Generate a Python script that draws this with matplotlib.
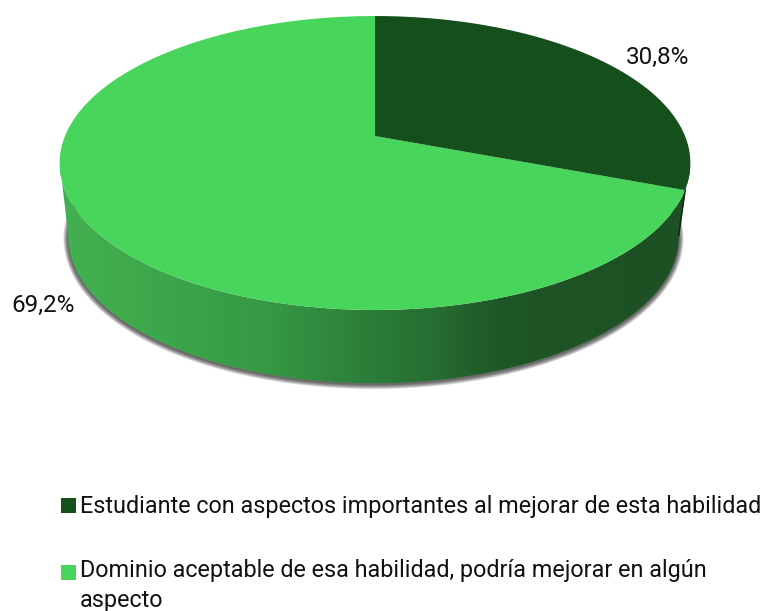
import numpy as np
import matplotlib
matplotlib.use('Agg')
import matplotlib.pyplot as plt
from matplotlib.colors import LinearSegmentedColormap
from matplotlib.patches import Polygon, Rectangle

# Chart data
labels = ['Estudiante con aspectos importantes al mejorar de esta habilidad',
          'Dominio aceptable de esa habilidad, podría mejorar en algún\naspecto']
shares = [30.8, 69.2]
share_labels = ['30,8%', '69,2%']

# Colours
DARK_GREEN = '#154f1c'
LIGHT_GREEN = '#48d55c'
SIDE_STOPS = [(0.0, '#43b052'), (0.12, '#3eaa4c'), (0.32, '#369a45'),
              (0.5, '#2b7c38'), (0.58, '#277033'), (0.7, '#1f5626'), (1.0, '#1d5023')]

# Perspective of the pie in pixels
CENTER_X = 375
LOWER_CENTER_X = 373.5
TOP_Y = 136
BOTTOM_Y = 210.5
RADIUS_X = 310
RADIUS_Y = 142
LOWER_RADIUS_X = 300
LOWER_RADIUS_Y = 141
TILT = 0.1837


def rim(theta_deg, cx, cy, rx, ry):
    # theta runs clockwise from the top of the pie
    t = np.radians(theta_deg)
    w = 1 + TILT * np.cos(t)
    return np.column_stack([cx + rx * np.sin(t) / w, cy - ry * np.cos(t) / w])


fig = plt.figure(figsize=(7.64, 6.11), dpi=100)
ax = fig.add_axes([0, 0, 1, 1])
ax.set_xlim(0, 764)
ax.set_ylim(611, 0)
ax.axis('off')

split = shares[0] / sum(shares) * 360
arc = np.linspace(100, 260, 200)
top_edge = rim(arc, CENTER_X, TOP_Y, RADIUS_X, RADIUS_Y)
low_edge = rim(arc, LOWER_CENTER_X, BOTTOM_Y, LOWER_RADIUS_X, LOWER_RADIUS_Y)
side_pts = np.vstack([top_edge, low_edge[::-1]])

# Soft shadow under the side of the pie, runs on behind the wall so it fades in
shadow_pts = rim(np.linspace(80, 280, 240), LOWER_CENTER_X, BOTTOM_Y + 1,
                 LOWER_RADIUS_X, LOWER_RADIUS_Y)
for lw in np.arange(7, 0, -1):
    ax.plot(shadow_pts[:, 0], shadow_pts[:, 1], color='#111111', alpha=0.13,
            lw=lw, solid_capstyle='round', zorder=1)

# Side wall with its horizontal shading
side_cmap = LinearSegmentedColormap.from_list('side', SIDE_STOPS)
side_img = ax.imshow(np.linspace(0, 1, 256).reshape(1, -1), cmap=side_cmap, aspect='auto',
                     extent=[60, 690, 400, 150], zorder=2)
ax.set_xlim(0, 764)
ax.set_ylim(611, 0)
side_patch = Polygon(side_pts, closed=True, facecolor='none', edgecolor='none', zorder=2)
ax.add_patch(side_patch)
side_img.set_clip_path(side_patch)

# Dark sliver on the right end of the wall
sliver = np.vstack([rim([split], CENTER_X, TOP_Y, RADIUS_X, RADIUS_Y),
                    rim([100], LOWER_CENTER_X, BOTTOM_Y, LOWER_RADIUS_X, LOWER_RADIUS_Y)])
ax.plot(sliver[:, 0], sliver[:, 1], color='#0b2b10', lw=1.2, zorder=2.5)

# Top face, wedges meet at the perspective centre
apex = [[CENTER_X, TOP_Y]]
dark_arc = rim(np.linspace(0, split, 120), CENTER_X, TOP_Y, RADIUS_X, RADIUS_Y)
light_arc = rim(np.linspace(split, 360, 300), CENTER_X, TOP_Y, RADIUS_X, RADIUS_Y)
ax.add_patch(Polygon(np.vstack([apex, light_arc]), closed=True, facecolor=LIGHT_GREEN,
                     edgecolor='none', zorder=3))
ax.add_patch(Polygon(np.vstack([apex, dark_arc]), closed=True, facecolor=DARK_GREEN,
                     edgecolor='none', zorder=4))

# Data labels
ax.text(658, 57, share_labels[0], fontsize=17.5, family='Roboto', color='#111111',
        ha='center', va='center')
ax.text(43.5, 305, share_labels[1], fontsize=17.5, family='Roboto', color='#111111',
        ha='center', va='center')

# Legend
ax.add_patch(Rectangle((61, 498), 14.5, 15, facecolor=DARK_GREEN, edgecolor='none'))
ax.add_patch(Rectangle((61, 565), 14.5, 14.5, facecolor=LIGHT_GREEN, edgecolor='none'))
ax.text(80, 506, labels[0], fontsize=16.85, family='Roboto', color='#111111', va='center')
ax.text(80, 585.5, labels[1], fontsize=16.85, family='Roboto', color='#111111', va='center',
        linespacing=1.34)

fig.savefig('out.png', dpi=100, facecolor='white')
